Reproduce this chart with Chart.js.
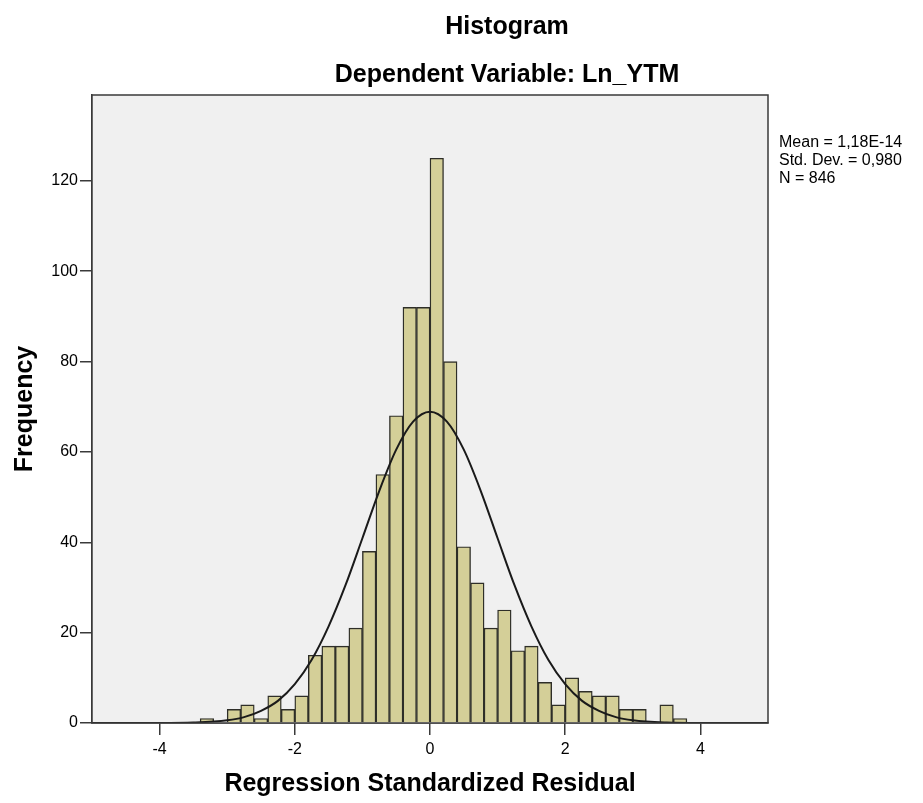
<!DOCTYPE html>
<html>
<head>
<meta charset="utf-8">
<script src="https://cdn.jsdelivr.net/npm/chart.js@4/dist/chart.umd.min.js"></script>
<style>
  body { margin: 0; background: #fff; }
  canvas { display: block; }
</style>
</head>
<body>
<canvas id="hist" width="923" height="803"></canvas>
<script>
// bin centres (bin width 0.2) and frequencies
var binCenters = [-3.3, -3.1, -2.9, -2.7, -2.5, -2.3, -2.1, -1.9, -1.7, -1.5, -1.3, -1.1,
  -0.9, -0.7, -0.5, -0.3, -0.1, 0.1, 0.3, 0.5, 0.7, 0.9, 1.1, 1.3, 1.5, 1.7, 1.9,
  2.1, 2.3, 2.5, 2.7, 2.9, 3.1, 3.3, 3.5, 3.7];
var counts = [1, 0, 3, 4, 1, 6, 3, 6, 15, 17, 17, 21,
  38, 55, 68, 92, 92, 125, 80, 39, 31, 21, 25, 16, 17, 9, 4,
  10, 7, 6, 6, 3, 3, 0, 4, 1];

// normal curve, points
var curveX = [-5, -4, -3.5, -3, -2.75, -2.5, -2.25, -2, -1.75, -1.5, -1.25, -1, -0.75, -0.5, -0.25, 0,
  0.25, 0.5, 0.75, 1, 1.25, 1.5, 1.75, 2, 2.25, 2.5, 2.75, 3, 3.5, 4, 5];
var curveY = [0, 0, 0.1, 0.6, 1.3, 2.7, 4.9, 8.6, 14.0, 21.4, 30.5, 40.9, 51.4, 60.5, 66.7, 68.9,
  66.7, 60.5, 51.4, 40.9, 30.5, 21.4, 14.0, 8.6, 4.9, 2.7, 1.3, 0.6, 0.1, 0, 0];

var xTicks = [-4, -2, 0, 2, 4];
var yTicks = [0, 20, 40, 60, 80, 100, 120];
var statsLines = ['Mean = 1,18E-14', 'Std. Dev. = 0,980', 'N = 846'];

var barData = [];
for (var i = 0; i < binCenters.length; i++) {
  barData.push({ x: binCenters[i], y: counts[i] });
}
var lineData = [];
for (var j = 0; j < curveX.length; j++) {
  lineData.push({ x: curveX[j], y: curveY[j] });
}

Chart.defaults.font.family = "'Liberation Sans', Arial, sans-serif";
Chart.defaults.color = '#000';

var frame = {
  id: 'frame',
  beforeDatasetsDraw: function (chart) {
    var a = chart.chartArea, ctx = chart.ctx;
    ctx.save();
    ctx.fillStyle = '#f0f0f0';
    ctx.fillRect(a.left, a.top, a.right - a.left, a.bottom - a.top);
    ctx.restore();
  },
  afterDraw: function (chart) {
    var a = chart.chartArea, ctx = chart.ctx;
    ctx.save();
    ctx.strokeStyle = '#3a3a3a';
    ctx.lineWidth = 1.5;
    ctx.strokeRect(a.left, a.top, a.right - a.left, a.bottom - a.top);

    ctx.fillStyle = '#000';
    ctx.textAlign = 'center';
    ctx.textBaseline = 'alphabetic';
    ctx.font = "bold 25px 'Liberation Sans', Arial, sans-serif";
    ctx.fillText('Histogram', 507, 34);
    ctx.fillText('Dependent Variable: Ln_YTM', 507, 82);

    ctx.textAlign = 'left';
    ctx.font = "16px 'Liberation Sans', Arial, sans-serif";
    for (var k = 0; k < statsLines.length; k++) {
      ctx.fillText(statsLines[k], 779, 147 + k * 18);
    }
    ctx.restore();
  }
};

new Chart(document.getElementById('hist'), {
  type: 'bar',
  data: {
    datasets: [
      {
        type: 'line',
        data: lineData,
        borderColor: '#1a1a1a',
        borderWidth: 2,
        pointRadius: 0,
        cubicInterpolationMode: 'monotone',
        fill: false,
        order: 0
      },
      {
        type: 'bar',
        data: barData,
        backgroundColor: '#d4cf98',
        borderColor: '#2e2e28',
        borderWidth: 1.4,
        barPercentage: 1,
        categoryPercentage: 1,
        order: 1
      }
    ]
  },
  options: {
    responsive: false,
    animation: false,
    layout: { padding: { top: 95, right: 155, left: 0, bottom: 0 } },
    plugins: {
      legend: { display: false },
      tooltip: { enabled: false },
      title: { display: false }
    },
    scales: {
      x: {
        type: 'linear',
        min: -5,
        max: 5,
        offset: false,
        grid: { offset: false, drawOnChartArea: false, tickLength: 12, color: '#3a3a3a', lineWidth: 1.5 },
        border: { display: true, color: '#3a3a3a', width: 1.5 },
        afterBuildTicks: function (s) { s.ticks = xTicks.map(function (v) { return { value: v }; }); },
        ticks: { font: { size: 16 }, padding: 5, maxRotation: 0 },
        title: {
          display: true,
          text: 'Regression Standardized Residual',
          font: { size: 25, weight: 'bold' },
          padding: { top: 0, bottom: 4 }
        },
        afterFit: function (s) { s.height = 80; }
      },
      y: {
        min: 0,
        max: 139,
        grid: { drawOnChartArea: false, tickLength: 12, color: '#3a3a3a', lineWidth: 1.5 },
        border: { display: true, color: '#3a3a3a', width: 1.5 },
        afterBuildTicks: function (s) { s.ticks = yTicks.map(function (v) { return { value: v }; }); },
        ticks: { font: { size: 16 }, padding: 2 },
        title: {
          display: true,
          text: 'Frequency',
          font: { size: 25, weight: 'bold' },
          padding: { top: 10, bottom: 0 }
        },
        afterFit: function (s) { s.width = 92; }
      }
    }
  },
  plugins: [frame]
});
</script>
</body>
</html>
